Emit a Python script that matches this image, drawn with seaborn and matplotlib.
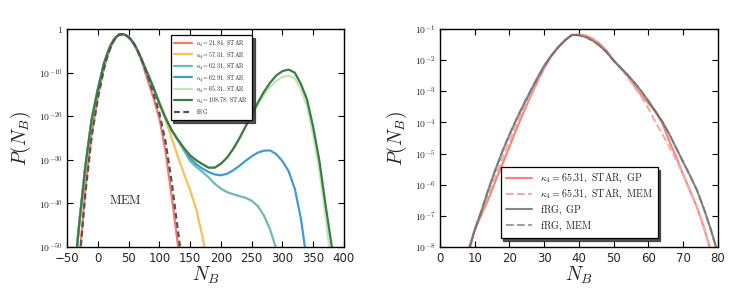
import numpy as np
import pandas as pd
import matplotlib
matplotlib.use("Agg")
import matplotlib.pyplot as plt
from matplotlib.ticker import NullLocator
import seaborn as sns

nan = np.nan

# ---- left panel: log10 P(N_B), on a grid of N_B ----
nb_left = [-40, -30, -20, -10, 0, 10, 15, 20, 25, 30, 35, 40, 45, 50, 55, 60, 65, 70] + \
    list(range(80, 400, 10))

logp_k21 = [nan, -53.1, -36.3, -24.0, -15.6, -9.0, -6.49, -4.46, -2.92, -1.86,
            -1.27, -1.17, -1.37, -1.88, -2.63, -3.7, -5.1, -6.8,
            -11.2, -15.6, -20.5, -28.0, -38.3, -49.3, -62.0] + [nan] * 25
logp_k57 = [-59.0, -44.5, -31.3, -20.8, -13.9, -7.95, -5.79, -4.03, -2.69, -1.77,
            -1.26, -1.17, -1.37, -1.86, -2.62, -3.65, -5.05, -6.6,
            -9.95, -13.4, -17.2, -20.8, -25.0, -29.2, -33.2, -37.0, -41.4, -47.6,
            -55.0] + [nan] * 21
logp_k62a = [-59.0, -44.5, -31.3, -20.8, -13.9, -7.95, -5.79, -4.03, -2.69, -1.77,
             -1.26, -1.17, -1.37, -1.86, -2.62, -3.65, -5.05, -6.6,
             -9.95, -13.3, -17.0, -20.35, -23.2, -25.5, -27.8, -30.3, -31.6, -32.8,
             -34.0, -35.5, -36.6, -37.4, -37.9, -38.3, -38.7, -39.4, -40.6, -42.8,
             -46.0, -50.5, -57.0] + [nan] * 9
logp_k62b = [-59.0, -44.5, -31.3, -20.8, -13.9, -7.95, -5.79, -4.03, -2.69, -1.77,
             -1.26, -1.17, -1.37, -1.86, -2.62, -3.65, -5.05, -6.6,
             -9.95, -13.3, -17.0, -20.35, -23.2, -25.4, -27.5, -29.6, -31.0, -32.0,
             -32.8, -33.35, -33.55, -33.2, -32.4, -31.4, -30.25, -29.2, -28.35, -27.9,
             -27.85, -28.7, -30.3, -32.6, -36.6, -43.5, -53.5] + [nan] * 5
logp_k65 = [-59.0, -44.5, -31.3, -20.8, -13.9, -7.95, -5.79, -4.03, -2.69, -1.77,
            -1.26, -1.17, -1.37, -1.86, -2.62, -3.65, -5.05, -6.6,
            -9.95, -13.3, -17.0, -20.35, -23.2, -25.35, -27.3, -29.0, -30.1, -31.0,
            -31.8, -31.8, -30.9, -29.5, -27.5, -25.1, -22.4, -19.9, -17.4, -15.1,
            -13.3, -11.9, -11.0, -10.7, -11.3, -13.8, -17.8, -24.3, -32.5, -43.0,
            -55.0, nan]
logp_k108 = [-59.0, -44.5, -31.3, -20.8, -13.9, -7.95, -5.79, -4.03, -2.69, -1.77,
             -1.26, -1.17, -1.37, -1.86, -2.62, -3.65, -5.05, -6.6,
             -9.95, -13.3, -17.0, -20.35, -23.2, -25.35, -27.3, -29.0, -30.1, -31.0,
             -31.8, -31.8, -30.9, -29.5, -27.5, -25.1, -22.4, -19.6, -16.9, -14.4,
             -12.3, -10.65, -9.65, -9.3, -10.0, -12.6, -16.2, -22.5, -30.2, -40.3,
             -49.8, -61.0]
logp_frg = [nan, -54.0, -37.5, -24.8, -16.0, -9.1, -6.55, -4.5, -2.93, -1.87,
            -1.27, -1.17, -1.37, -1.85, -2.62, -3.65, -5.05, -6.6,
            -10.3, -14.6, -19.2, -25.8, -35.0, -46.0, -57.0] + [nan] * 25

labels_left = [r'$\kappa_4=21.84,\ \mathrm{STAR}$', r'$\kappa_4=57.31,\ \mathrm{STAR}$',
               r'$\kappa_4=62.31,\ \mathrm{STAR}$', r'$\kappa_4=62.91,\ \mathrm{STAR}$',
               r'$\kappa_4=65.31,\ \mathrm{STAR}$', r'$\kappa_4=108.78,\ \mathrm{STAR}$',
               r'$\mathrm{fRG}$']
colors_left = ['#f4786e', '#fbbf59', '#6cbab1', '#3f9bd6', '#c4e6be', '#3b7d3e', '#555555']

# ---- right panel ----
nb_right = list(range(6, 82, 2))

logp_star_gp = [-9.5, -8.15, -7.45, -6.95, -6.45, -5.87, -5.33, -4.78, -4.22, -3.69,
                -3.18, -2.7, -2.26, -1.88, -1.58, -1.36, -1.2, -1.17, -1.21, -1.31,
                -1.47, -1.7, -2.0, -2.26, -2.5, -2.82, -3.13, -3.38, -3.65, -4.02,
                -4.6, -5.1, -5.67, -6.2, -6.72, -7.38, -8.15, -8.95]
logp_star_mem = [-9.3, -8.2, -7.45, -6.9, -6.3, -5.7, -5.13, -4.6, -4.07, -3.57,
                 -3.09, -2.64, -2.22, -1.87, -1.58, -1.37, -1.19, -1.18, -1.23, -1.33,
                 -1.5, -1.72, -2.0, -2.26, -2.55, -2.86, -3.18, -3.55, -3.98, -4.37,
                 -4.78, -5.2, -5.67, -6.2, -6.72, -7.38, -8.15, -8.95]
logp_frg_gp = [-9.1, -8.25, -7.45, -6.82, -6.13, -5.5, -4.92, -4.39, -3.9, -3.44,
               -3.0, -2.58, -2.18, -1.86, -1.59, -1.36, -1.185, -1.2, -1.26, -1.375,
               -1.54, -1.75, -2.02, -2.24, -2.47, -2.72, -3.0, -3.31, -3.64, -3.97,
               -4.37, -4.82, -5.27, -5.71, -6.18, -6.78, -7.45, -8.2]
logp_frg_mem = list(logp_frg_gp)

labels_right = [r'$\kappa_4=65.31,\ \mathrm{STAR},\ \mathrm{GP}$',
                r'$\kappa_4=65.31,\ \mathrm{STAR},\ \mathrm{MEM}$',
                r'$\mathrm{fRG},\ \mathrm{GP}$', r'$\mathrm{fRG},\ \mathrm{MEM}$']


def draw(ax, x, logp, **kw):
    df = pd.DataFrame({'N': x, 'P': 10.0 ** np.asarray(logp, dtype=float)})
    sns.lineplot(data=df, x='N', y='P', ax=ax, estimator=None, sort=False, **kw)


def style_axes(ax):
    ax.set_yscale('log')
    ax.yaxis.set_minor_locator(NullLocator())
    ax.xaxis.set_minor_locator(NullLocator())
    ax.tick_params(which='major', direction='in', top=True, right=True,
                   length=4, width=0.8, color='black')
    ax.tick_params(axis='x', labelsize=8.5, pad=3.5)
    ax.tick_params(axis='y', labelsize=7, pad=3)
    for s in ax.spines.values():
        s.set_visible(True)
        s.set_color('black')
        s.set_linewidth(1.0)
    ax.set_xlabel(r'$N_B$', fontsize=14, labelpad=0)
    ax.set_ylabel(r'$P(N_B)$', fontsize=14, labelpad=4)


sns.set_style("ticks")
plt.rcParams['font.family'] = ['DejaVu Sans']
plt.rcParams['mathtext.fontset'] = 'cm'

fig = plt.figure(figsize=(7.47, 2.91), dpi=100)
ax1 = fig.add_axes([0.0897, 0.1512, 0.3708, 0.749])
ax2 = fig.add_axes([0.589, 0.1512, 0.372, 0.749])

shadow_props = {'color': '0.2', 'alpha': 0.85}

# left
curves_left = [logp_k21, logp_k57, logp_k62a, logp_k62b, logp_k65, logp_k108]
for lp, lab, col in zip(curves_left, labels_left[:6], colors_left[:6]):
    draw(ax1, nb_left, lp, color=col, lw=1.6, label=lab)
draw(ax1, nb_left, logp_frg, color=colors_left[6], lw=1.6, linestyle=(0, (2.6, 1.6)),
     label=labels_left[6])

style_axes(ax1)
ax1.set_xlim(-50, 400)
ax1.set_ylim(1e-50, 1.0)
ax1.set_xticks(range(-50, 401, 50))
ax1.set_yticks([10.0 ** k for k in range(-50, 1, 10)])
ax1.set_yticklabels([r'$10^{%d}$' % k for k in range(-50, 0, 10)] + [r'$1$'])
ax1.text(0.21, 0.215, r'$\mathrm{MEM}$', transform=ax1.transAxes, fontsize=9,
         ha='center', va='center')
leg1 = ax1.legend(loc='upper left', bbox_to_anchor=(0.374, 0.972), fontsize=4.3,
                  frameon=True, fancybox=False, shadow=shadow_props, framealpha=1,
                  edgecolor='black', borderaxespad=0, handlelength=3.0,
                  labelspacing=0.3, borderpad=0.6, handletextpad=0.7)
leg1.get_frame().set_linewidth(0.9)

# right
draw(ax2, nb_right, logp_star_gp, color='#f4786e', lw=1.5, alpha=0.9, label=labels_right[0])
draw(ax2, nb_right, logp_star_mem, color='#f9aaa2', lw=1.5, linestyle='--', label=labels_right[1])
draw(ax2, nb_right, logp_frg_gp, color='#555555', lw=1.5, alpha=0.7, label=labels_right[2])
draw(ax2, nb_right, logp_frg_mem, color='#777777', lw=1.5, alpha=0.7, linestyle='--',
     label=labels_right[3])

style_axes(ax2)
ax2.set_xlim(0, 80)
ax2.set_ylim(1e-8, 1e-1)
ax2.set_xticks(range(0, 81, 10))
ax2.set_yticks([10.0 ** k for k in range(-8, 0)])
ax2.set_yticklabels([r'$10^{%d}$' % k for k in range(-8, 0)])
leg2 = ax2.legend(loc='lower left', bbox_to_anchor=(0.218, 0.041), fontsize=7.2,
                  frameon=True, fancybox=False, shadow=shadow_props, framealpha=1,
                  edgecolor='black', borderaxespad=0, handlelength=2.6,
                  labelspacing=0.25, borderpad=0.5)
leg2.get_frame().set_linewidth(0.9)

fig.savefig('out.png', dpi=100)
